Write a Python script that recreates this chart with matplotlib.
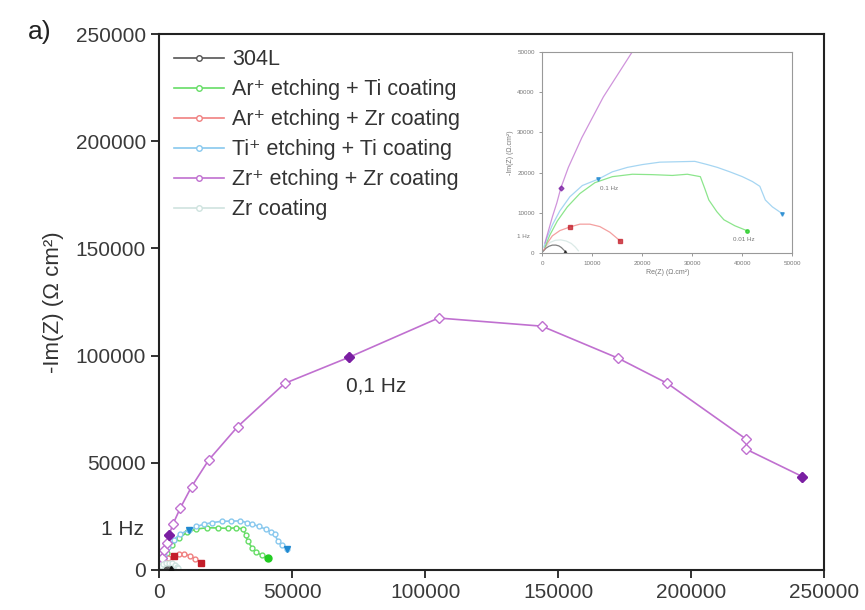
import matplotlib
matplotlib.use("Agg")
import matplotlib.pyplot as plt

plt.rcParams['font.family'] = ['Liberation Sans', 'DejaVu Sans']

# ---------------- data ----------------
labels = ["304L", "Ar⁺ etching + Ti coating", "Ar⁺ etching + Zr coating",
          "Ti⁺ etching + Ti coating", "Zr⁺ etching + Zr coating", "Zr coating"]

x_304L = [200, 700, 1300, 2000, 2700, 3300, 3800, 4200, 4600]
y_304L = [500, 1200, 1700, 2000, 2000, 1800, 1400, 900, 400]

x_ArTi = [500, 1500, 3000, 5000, 7500, 10500, 14000, 18000, 22000, 26000, 29000,
          31600, 32500, 33300, 34900, 36300, 38500, 40900]
y_ArTi = [1500, 4500, 8000, 11500, 14800, 17500, 19000, 19600, 19500, 19300, 19600,
          19000, 16000, 13200, 10300, 8300, 6800, 5600]

x_ArZr = [300, 1000, 2000, 3500, 5500, 7500, 9500, 11500, 13500, 15600]
y_ArZr = [800, 2500, 4300, 5600, 6500, 7200, 7200, 6600, 5200, 3000]

x_TiTi = [300, 1000, 2000, 3500, 5500, 8000, 11200, 14000, 17000, 20000, 23500, 27000,
          30500, 33000, 35000, 37500, 40000, 42000, 43500, 44600, 46000, 48000]
y_TiTi = [1500, 4000, 7000, 10500, 14000, 16800, 18400, 20200, 21300, 22000, 22600, 22700,
          22800, 22000, 21300, 20200, 19000, 17800, 16600, 13200, 11500, 9800]

x_ZrZr = [500, 1200, 2000, 2900, 3700, 5200, 7900, 12200, 18600, 29500, 47200, 71200,
          105000, 143800, 172400, 191000, 220700, 220700, 241700]
y_ZrZr = [2500, 5500, 9000, 12500, 16200, 21300, 28700, 38800, 51200, 66800, 87000, 99100,
          117500, 113700, 98800, 87000, 60900, 56200, 43500]

x_Zr = [200, 800, 1600, 2600, 3700, 4800, 5800, 6600, 7200]
y_Zr = [700, 1800, 2700, 3200, 3300, 3000, 2400, 1500, 600]

# indices of highlighted frequency points (1 Hz, 0.1 Hz, 0.01 Hz)
hl_304L = [8]
hl_ArTi = [17]
hl_ArZr = [4, 9]
hl_TiTi = [6, 21]
hl_ZrZr = [4, 11, 18]

series = [
    (x_304L, y_304L, "#555555", "#111111", "o", "^", hl_304L),
    (x_ArTi, y_ArTi, "#66dd66", "#22cc22", "o", "o", hl_ArTi),
    (x_ArZr, y_ArZr, "#f08080", "#c41e2a", "o", "s", hl_ArZr),
    (x_TiTi, y_TiTi, "#88c8ee", "#1f88d0", "o", "v", hl_TiTi),
    (x_ZrZr, y_ZrZr, "#c070d0", "#7a1fa2", "D", "D", hl_ZrZr),
    (x_Zr, y_Zr, "#cfe3df", "#b8d4cf", "o", "o", []),
]

xticks = [0, 50000, 100000, 150000, 200000, 250000]
yticks = [0, 50000, 100000, 150000, 200000, 250000]
inset_ticks = [0, 10000, 20000, 30000, 40000, 50000]

# ---------------- figure ----------------
fig = plt.figure(figsize=(8.65, 6.10), dpi=100)
ax = fig.add_axes([0.184, 0.066, 0.769, 0.878])

order = [5, 0, 2, 1, 3, 4]
for i in order:
    xs, ys, lc, fc, mk, fmk, hl = series[i]
    ms = 5 if i == 4 else 3.5
    ax.plot(xs, ys, color=lc, lw=1.2, marker=mk, ms=ms, mfc="white",
            mec=lc, mew=1.0, zorder=2 + i * 0.1)
    if hl:
        ax.plot([xs[k] for k in hl], [ys[k] for k in hl], ls="none", marker=fmk,
                ms=5, color=fc, mec=fc, zorder=4)

ax.set_xlim(0, 250000)
ax.set_ylim(0, 250000)
ax.set_xticks(xticks)
ax.set_yticks(yticks)
ax.set_xticklabels([str(v) for v in xticks])
ax.set_yticklabels([str(v) for v in yticks])
ax.tick_params(axis="both", which="major", labelsize=15, direction="out", length=6,
               width=1.3, colors="#222222", labelcolor="#3a3a3a")
for s in ax.spines.values():
    s.set_linewidth(1.5)
    s.set_color("#222222")
ax.set_ylabel("-Im(Z) (Ω cm²)", fontsize=16, color="#333333", labelpad=8)

ax.text(81600, 86000, "0,1 Hz", fontsize=15, color="#333333", ha="center", va="center")
ax.text(-13900, 18700, "1 Hz", fontsize=15, color="#333333", ha="center", va="center",
        clip_on=False)
fig.text(0.046, 0.948, "a)", fontsize=19, color="#222222", ha="center", va="center")

leg_handles = []
for i in range(6):
    xs, ys, lc, fc, mk, fmk, hl = series[i]
    lh, = ax.plot([], [], color=lc, lw=1.2, marker="o", ms=4, mfc="white", mec=lc)
    leg_handles.append(lh)
ax.legend(leg_handles, labels, loc="upper left", frameon=False, fontsize=15.5,
          handlelength=2.3, handletextpad=0.4, labelspacing=0.42,
          bbox_to_anchor=(0.0, 1.0), borderaxespad=0.3, labelcolor="#333333")

# ---------------- inset ----------------
ins = fig.add_axes([0.627, 0.585, 0.289, 0.330])
for i in order:
    xs, ys, lc, fc, mk, fmk, hl = series[i]
    ins.plot(xs, ys, color=lc, lw=0.9, alpha=0.75)
    if hl:
        ins.plot([xs[k] for k in hl], [ys[k] for k in hl], ls="none", marker=fmk,
                 ms=2.5, color=fc, alpha=0.75)
ins.set_xlim(0, 50000)
ins.set_ylim(0, 50000)
ins.set_xticks(inset_ticks)
ins.set_yticks(inset_ticks)
ins.set_xticklabels([str(v) for v in inset_ticks])
ins.set_yticklabels([str(v) for v in inset_ticks])
ins.tick_params(labelsize=4.5, length=2, width=0.6, colors="#888888", labelcolor="#777777")
for s in ins.spines.values():
    s.set_linewidth(0.8)
    s.set_color("#999999")
ins.set_xlabel("Re(Z) (Ω.cm²)", fontsize=5, color="#777777", labelpad=2)
ins.set_ylabel("-Im(Z) (Ω.cm²)", fontsize=5, color="#777777", labelpad=2)
ins.text(13300, 16100, "0.1 Hz", fontsize=4.5, color="#777777", ha="center", va="center")
ins.text(40300, 3300, "0.01 Hz", fontsize=4.5, color="#777777", ha="center", va="center")
ins.text(-2500, 4100, "1 Hz", fontsize=4.5, color="#777777", ha="right", va="center",
         clip_on=False)

fig.savefig("out.png", dpi=100)
